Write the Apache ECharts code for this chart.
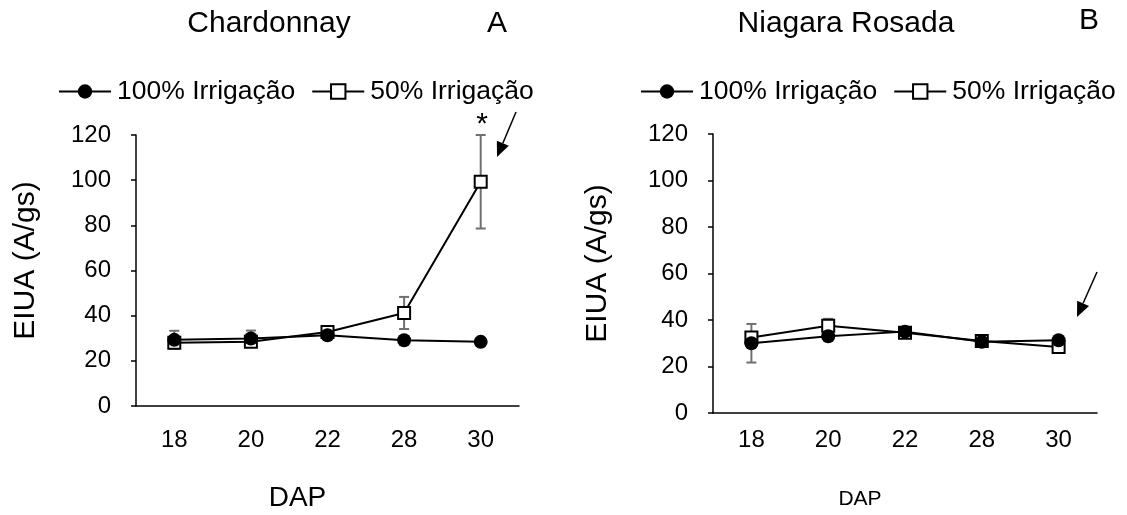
<!DOCTYPE html>
<html>
<head>
<meta charset="utf-8">
<script src="https://cdn.jsdelivr.net/npm/echarts@6/dist/echarts.min.js"></script>
<style>
html,body{margin:0;padding:0;background:#fff;}
#chart{width:1127px;height:515px;}
</style>
</head>
<body>
<div id="chart"></div>
<script>
// ---- data ----
const categories = ['18', '20', '22', '28', '30'];
const seriesNames = ['100% Irrigação', '50% Irrigação'];

const chardonnay100 = [29.3, 29.9, 31.3, 29.1, 28.4];
const chardonnay100Err = [4.0, 3.5, 1.5, 1.0, 1.0];
const chardonnay50 = [28.0, 28.5, 32.8, 41.2, 99.3];
const chardonnay50Err = [1.5, 1.5, 1.5, 7.1, 20.7];

const niagara100 = [30.0, 33.0, 35.0, 30.6, 31.3];
const niagara100Err = [8.3, 1.5, 1.5, 2.0, 1.0];
const niagara50 = [32.5, 37.5, 34.5, 31.0, 28.4];
const niagara50Err = [2.0, 3.0, 1.5, 2.5, 1.5];

const titles = ['Chardonnay', 'Niagara Rosada'];
const panelLetters = ['A', 'B'];
const yAxisName = 'EIUA (A/gs)';
const xAxisName = 'DAP';

// ---- helpers ----
const FONT = "'Liberation Sans', Arial, sans-serif";
const errColor = '#707070';

function errData(means, errs) {
  return means.map((m, i) => [i, m - errs[i], m + errs[i]]);
}

function errRender(params, api) {
  const x = api.value(0), lo = api.value(1), hi = api.value(2);
  const pLo = api.coord([x, lo]);
  const pHi = api.coord([x, hi]);
  const hw = 5;
  const style = { stroke: errColor, lineWidth: 2, fill: null };
  return {
    type: 'group',
    children: [
      { type: 'line', shape: { x1: pLo[0], y1: pLo[1], x2: pHi[0], y2: pHi[1] }, style: style },
      { type: 'line', shape: { x1: pLo[0] - hw, y1: pLo[1], x2: pLo[0] + hw, y2: pLo[1] }, style: style },
      { type: 'line', shape: { x1: pHi[0] - hw, y1: pHi[1], x2: pHi[0] + hw, y2: pHi[1] }, style: style }
    ]
  };
}

function errSeries(idx, means, errs) {
  return {
    type: 'custom',
    xAxisIndex: idx, yAxisIndex: idx,
    renderItem: errRender,
    data: errData(means, errs),
    encode: { x: 0, y: [1, 2] },
    z: 1,
    silent: true
  };
}

function lineFull(idx, values) {
  return {
    name: seriesNames[0], type: 'line',
    xAxisIndex: idx, yAxisIndex: idx,
    data: values,
    symbol: 'circle', symbolSize: 14,
    lineStyle: { color: '#000', width: 2 },
    itemStyle: { color: '#000', borderColor: '#000', borderWidth: 0 },
    z: 4, animation: false
  };
}

function lineHalf(idx, values) {
  return {
    name: seriesNames[1], type: 'line',
    xAxisIndex: idx, yAxisIndex: idx,
    data: values,
    symbol: 'rect', symbolSize: 12,
    lineStyle: { color: '#000', width: 2 },
    itemStyle: { color: '#fff', borderColor: '#000', borderWidth: 2 },
    z: 3, animation: false
  };
}

const grids = [
  { left: 136, top: 135, width: 383, height: 271, outerBoundsMode: 'none', containLabel: false },
  { left: 713, top: 134, width: 384, height: 279, outerBoundsMode: 'none', containLabel: false }
];

function xAxisCfg(idx, labelMargin, namePad) {
  return {
    type: 'category', gridIndex: idx, data: categories,
    boundaryGap: true,
    axisLine: { lineStyle: { color: '#000', width: 1.5 } },
    axisTick: { show: false },
    axisLabel: { color: '#000', fontSize: 24, fontFamily: FONT, margin: labelMargin },
    name: xAxisName, nameLocation: 'middle',
    nameGap: idx === 0 ? 78 : 76,
    nameTextStyle: { color: '#000', fontSize: idx === 0 ? 28 : 21, fontFamily: FONT, padding: namePad }
  };
}

function yAxisCfg(idx) {
  return {
    type: 'value', gridIndex: idx, min: 0, max: 120, interval: 20,
    axisLine: { show: true, lineStyle: { color: '#000', width: 1.5 } },
    axisTick: { show: true, length: 5, lineStyle: { color: '#000', width: 1.5 } },
    splitLine: { show: false },
    axisLabel: { color: '#000', fontSize: 24, fontFamily: FONT, margin: 25 },
    name: yAxisName, nameLocation: 'middle', nameRotate: 90,
    nameGap: idx === 0 ? 95 : 100,
    nameTextStyle: { color: '#000', fontSize: 30, fontFamily: FONT, padding: [0, 0, 0, 20] }
  };
}

function legendCfg(left) {
  return {
    left: left, top: 78, padding: 0,
    data: seriesNames,
    itemWidth: 52, itemHeight: 18, itemGap: 16,
    textStyle: { color: '#000', fontSize: 26.5, fontFamily: FONT, padding: [0, 0, 0, 1] },
    selectedMode: false
  };
}

function textEl(str, x, y, size) {
  return {
    type: 'text', x: x, y: y, silent: true,
    style: { text: str, fill: '#000', font: size + 'px ' + FONT, textAlign: 'center', textVerticalAlign: 'middle' }
  };
}

function arrowEls(x1, y1, tx, ty) {
  const dx = tx - x1, dy = ty - y1;
  const len = Math.sqrt(dx * dx + dy * dy);
  const ux = dx / len, uy = dy / len;
  const hl = 15, hw = 6.5;
  const bx = tx - hl * ux, by = ty - hl * uy;
  const nx = -uy, ny = ux;
  return [
    { type: 'line', silent: true, shape: { x1: x1, y1: y1, x2: bx, y2: by }, style: { stroke: '#000', lineWidth: 1.5 } },
    { type: 'polygon', silent: true, shape: { points: [[tx, ty], [bx + nx * hw, by + ny * hw], [bx - nx * hw, by - ny * hw]] }, style: { fill: '#000' } }
  ];
}

const chart = echarts.init(document.getElementById('chart'), null, { renderer: 'canvas' });

const option = {
  backgroundColor: '#fff',
  animation: false,
  grid: grids,
  legend: [legendCfg(58), legendCfg(640)],
  xAxis: [xAxisCfg(0, 22, [0, 60, 0, 0]), xAxisCfg(1, 15, [0, 90, 0, 0])],
  yAxis: [yAxisCfg(0), yAxisCfg(1)],
  series: [
    errSeries(0, chardonnay100, chardonnay100Err),
    errSeries(0, chardonnay50, chardonnay50Err),
    lineFull(0, chardonnay100),
    lineHalf(0, chardonnay50),
    errSeries(1, niagara100, niagara100Err),
    errSeries(1, niagara50, niagara50Err),
    lineFull(1, niagara100),
    lineHalf(1, niagara50)
  ],
  graphic: [
    textEl(titles[0], 269, 24, 30),
    textEl(panelLetters[0], 497, 24, 30),
    textEl(titles[1], 846, 24, 30),
    textEl(panelLetters[1], 1089, 21, 30),
    textEl('*', 482, 125, 30)
  ].concat(arrowEls(516, 112, 497, 157), arrowEls(1097, 272, 1077, 317))
};

chart.setOption(option);
</script>
</body>
</html>
